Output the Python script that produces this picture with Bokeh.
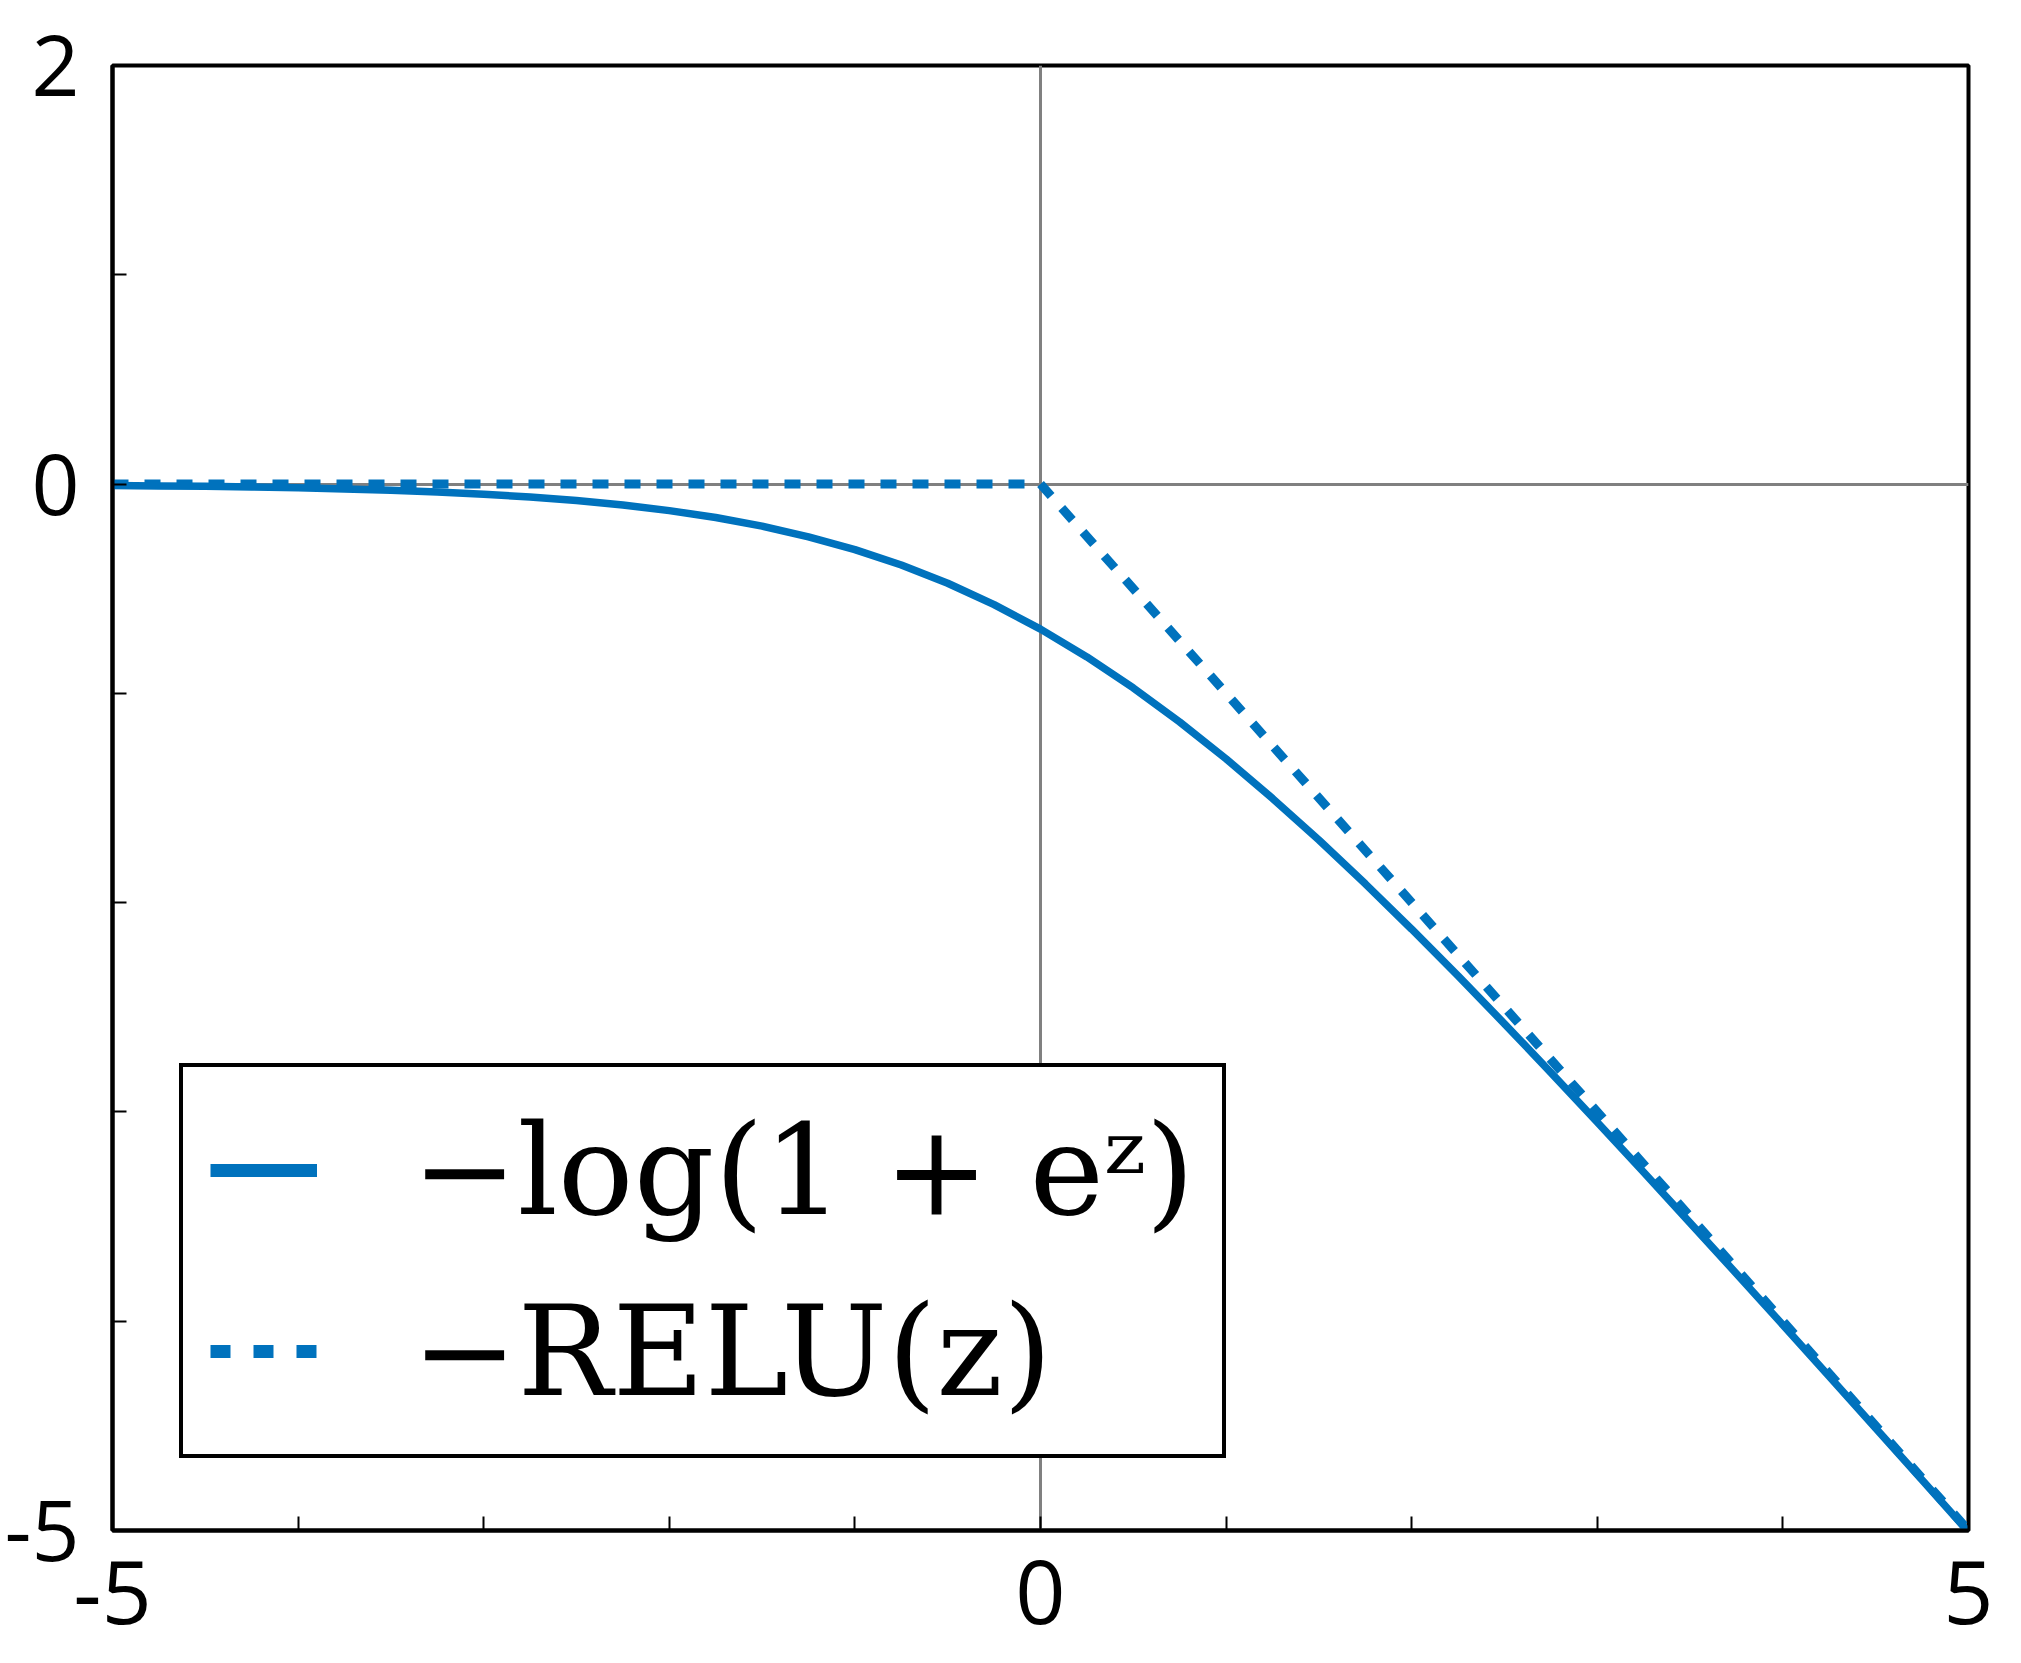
from bokeh.plotting import figure
from bokeh.models import Range1d, FixedTicker, Legend, LegendItem
from bokeh.embed import file_html
from bokeh.resources import INLINE

# data
z_vals = [-5.0, -4.75, -4.5, -4.25, -4.0, -3.75, -3.5, -3.25, -3.0, -2.75, -2.5, -2.25,
          -2.0, -1.75, -1.5, -1.25, -1.0, -0.75, -0.5, -0.25, 0.0, 0.25, 0.5, 0.75,
          1.0, 1.25, 1.5, 1.75, 2.0, 2.25, 2.5, 2.75, 3.0, 3.25, 3.5, 3.75, 4.0, 4.25,
          4.5, 4.75, 5.0]
softplus_neg = [-0.007, -0.009, -0.011, -0.014, -0.018, -0.023, -0.030, -0.038, -0.049,
                -0.062, -0.079, -0.100, -0.127, -0.160, -0.201, -0.252, -0.313, -0.387,
                -0.474, -0.576, -0.693, -0.826, -0.974, -1.137, -1.313, -1.502, -1.701,
                -1.910, -2.127, -2.350, -2.579, -2.812, -3.049, -3.288, -3.530, -3.773,
                -4.018, -4.264, -4.511, -4.759, -5.007]
relu_z = [-5.0, 0.0, 5.0]
relu_neg = [0.0, 0.0, -5.0]

x_ticks = [-5, -4, -3, -2, -1, 0, 1, 2, 3, 4, 5]
x_labels = {-5: "-5", 0: "0", 5: "5"}
y_ticks = [-5, -4, -3, -2, -1, 0, 1, 2]
y_labels = {-5: "-5", 0: "0", 2: "2"}
legend_labels = ["\u2212log(1 + e\u1dbb)", "\u2212RELU(z)"]

BLUE = "#0072BD"
X_MIN, X_MAX, Y_MIN, Y_MAX = -5, 5, -5, 2

p = figure(width=2013, height=1655, output_backend="svg", toolbar_location=None,
           x_range=Range1d(X_MIN, X_MAX), y_range=Range1d(Y_MIN, Y_MAX),
           min_border_left=112, min_border_right=45, min_border_top=65,
           min_border_bottom=125)
p.background_fill_color = "white"
p.border_fill_color = "white"
p.outline_line_color = "black"
p.outline_line_width = 4

# grid lines only at zero
p.xgrid.ticker = FixedTicker(ticks=[0])
p.ygrid.ticker = FixedTicker(ticks=[0])
for g in (p.xgrid, p.ygrid):
    g.grid_line_color = "#808080"
    g.grid_line_width = 3
    g.grid_line_alpha = 1.0

p.line(z_vals, softplus_neg, line_color=BLUE, line_width=7.5)
p.line(relu_z, relu_neg, line_color=BLUE, line_width=9, line_dash="16 16")

# legend samples (thicker strokes, as in the reference legend); hidden in the plot
l1 = p.line(z_vals, softplus_neg, line_color=BLUE, line_width=13, visible=False)
l2 = p.line(relu_z, relu_neg, line_color=BLUE, line_width=13, line_dash="20 23",
            visible=False)

# axes
p.xaxis.ticker = FixedTicker(ticks=x_ticks)
p.yaxis.ticker = FixedTicker(ticks=y_ticks)
p.xaxis.major_label_overrides = {t: x_labels.get(t, "") for t in x_ticks}
p.yaxis.major_label_overrides = {t: y_labels.get(t, "") for t in y_ticks}
for ax in (p.xaxis, p.yaxis):
    ax.axis_line_color = "black"
    ax.axis_line_width = 4
    ax.major_tick_in = 14
    ax.major_tick_out = 0
    ax.major_tick_line_width = 2
    ax.major_tick_line_color = "black"
    ax.minor_tick_line_color = None
    ax.major_label_text_font = "Open Sans"
    ax.major_label_text_color = "black"
p.xaxis.major_label_text_font_size = "88px"
p.yaxis.major_label_text_font_size = "84px"
p.yaxis.major_label_standoff = 33
p.xaxis.major_label_standoff = 30

legend = Legend(items=[LegendItem(label=legend_labels[0], renderers=[l1]),
                       LegendItem(label=legend_labels[1], renderers=[l2])],
                location=(67, 72), margin=0, padding=27, spacing=29,
                glyph_width=107, glyph_height=152, label_height=152,
                label_standoff=95, click_policy="none",
                inactive_fill_alpha=0.0,
                label_text_font="DejaVu Serif", label_text_font_size="126px",
                label_text_color="black",
                border_line_color="black", border_line_width=4,
                border_line_alpha=1.0,
                background_fill_color="white", background_fill_alpha=1.0)
p.add_layout(legend)

open("out.html", "w").write(file_html(p, INLINE))
